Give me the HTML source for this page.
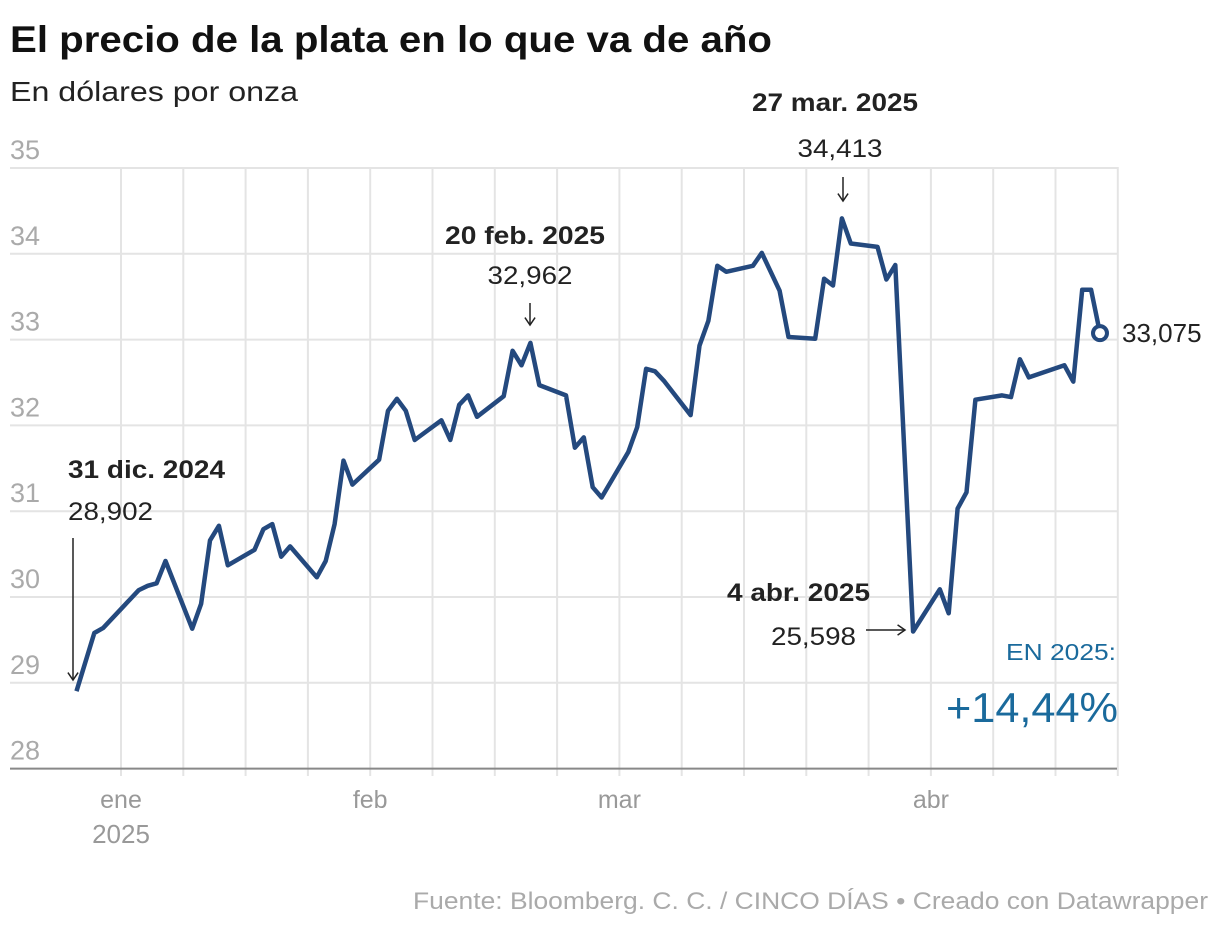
<!DOCTYPE html>
<html><head><meta charset="utf-8">
<style>
body{margin:0;background:#fff;font-family:"Liberation Sans",sans-serif;}
#wrap{position:relative;width:1220px;height:930px;overflow:hidden;}
</style></head>
<body>
<div id="wrap">
<svg id="chart" width="1220" height="930" font-family="Liberation Sans, sans-serif">
<text x="10" y="52" font-size="37" font-weight="bold" fill="#111" textLength="762" lengthAdjust="spacingAndGlyphs">El precio de la plata en lo que va de año</text>
<text x="10" y="101" font-size="28" fill="#222" textLength="288" lengthAdjust="spacingAndGlyphs">En dólares por onza</text>
<g id="grid"></g>
<g id="series"></g>
<g id="annot"></g>
<text x="1208" y="909" font-size="24" fill="#aaa" text-anchor="end" textLength="795" lengthAdjust="spacingAndGlyphs">Fuente: Bloomberg. C. C. / CINCO DÍAS • Creado con Datawrapper</text>
</svg>
</div>
<script>
const dates=["2024-12-31","2025-01-02","2025-01-03","2025-01-07","2025-01-08","2025-01-09","2025-01-10","2025-01-13","2025-01-14","2025-01-15","2025-01-16","2025-01-17","2025-01-20","2025-01-21","2025-01-22","2025-01-23","2025-01-24","2025-01-27","2025-01-28","2025-01-29","2025-01-30","2025-01-31","2025-02-03","2025-02-04","2025-02-05","2025-02-06","2025-02-07","2025-02-10","2025-02-11","2025-02-12","2025-02-13","2025-02-14","2025-02-17","2025-02-18","2025-02-19","2025-02-20","2025-02-21","2025-02-24","2025-02-25","2025-02-26","2025-02-27","2025-02-28","2025-03-03","2025-03-04","2025-03-05","2025-03-06","2025-03-07","2025-03-10","2025-03-11","2025-03-12","2025-03-13","2025-03-14","2025-03-17","2025-03-18","2025-03-20","2025-03-21","2025-03-24","2025-03-25","2025-03-26","2025-03-27","2025-03-28","2025-03-31","2025-04-01","2025-04-02","2025-04-04","2025-04-07","2025-04-08","2025-04-09","2025-04-10","2025-04-11","2025-04-14","2025-04-15","2025-04-16","2025-04-17","2025-04-21","2025-04-22","2025-04-23","2025-04-24","2025-04-25"];
const prices=[28.902,29.58,29.64,30.08,30.13,30.16,30.42,29.63,29.92,30.66,30.83,30.37,30.55,30.79,30.85,30.47,30.59,30.23,30.42,30.85,31.59,31.31,31.60,32.17,32.31,32.17,31.83,32.06,31.83,32.24,32.35,32.10,32.34,32.87,32.70,32.962,32.47,32.35,31.74,31.86,31.28,31.16,31.69,31.98,32.66,32.63,32.52,32.12,32.93,33.22,33.86,33.79,33.86,34.01,33.57,33.03,33.01,33.71,33.63,34.413,34.12,34.08,33.70,33.87,29.598,30.09,29.81,31.03,31.22,32.30,32.35,32.33,32.77,32.56,32.70,32.51,33.58,33.58,33.075];
const yTicks=[28,29,30,31,32,33,34,35];
const monthTicks=["2025-01-05","2025-02-02","2025-03-02","2025-04-06"];
const monthLabels=["ene","feb","mar","abr"];

const NS="http://www.w3.org/2000/svg";
const origin=Date.UTC(2025,0,5);
function dayOf(s){const p=s.split("-");return (Date.UTC(+p[0],+p[1]-1,+p[2])-origin)/86400000;}
function xs(s){return 121+dayOf(s)*8.9;}
function ys(v){return 168+(35-v)*85.8;}
function mk(tag,attrs,parent){const e=document.createElementNS(NS,tag);for(const k in attrs)e.setAttribute(k,attrs[k]);parent.appendChild(e);return e;}
const grid=document.getElementById("grid"),series=document.getElementById("series"),annot=document.getElementById("annot");

for(let w=0;w<=16;w++){const x=121+w*62.3;
 const l=mk("line",{x1:x,y1:167,x2:x,y2:776,stroke:"#e4e4e4","stroke-width":2},grid);
 
 }
yTicks.forEach(v=>{const y=ys(v);
 const l=mk("line",{x1:10,y1:y,x2:1117,y2:y,stroke:v===28?"#888":"#e4e4e4","stroke-width":2},grid);
 
 
 const t=mk("text",{x:10,y:y-9,"font-size":27,fill:"#aaa"},grid);t.textContent=v;
 
 });
monthTicks.forEach((d,i)=>{const x=xs(d);
 const t=mk("text",{x:x,y:808,"font-size":25,fill:"#999","text-anchor":"middle"},grid);t.textContent=monthLabels[i];
 
 });
const yr=mk("text",{x:xs(monthTicks[0]),y:843,"font-size":26,fill:"#999","text-anchor":"middle"},grid);yr.textContent="2025";



const pts=dates.map((d,i)=>xs(d).toFixed(1)+","+ys(prices[i]).toFixed(1)).join(" ");
const pl=mk("polyline",{points:pts,fill:"none",stroke:"#24497e","stroke-width":4.5,"stroke-linejoin":"round"},series);


const n=dates.length-1;
const c=mk("circle",{cx:xs(dates[n]),cy:ys(prices[n]),r:7,fill:"#fff",stroke:"#24497e","stroke-width":4},series);


const lv=mk("text",{x:xs(dates[n])+22,y:ys(prices[n])+9,"font-size":26,fill:"#222"},series);lv.textContent=prices[n].toFixed(3).replace(".",",");



function txt(s,x,y,opts,name,len){const t=mk("text",Object.assign({x:x,y:y,"font-size":24,fill:"#222"},opts),annot);t.textContent=s;
 if(len){t.setAttribute("textLength",len);t.setAttribute("lengthAdjust","spacingAndGlyphs");}
 
 return t;}
function arrow(x1,y1,x2,y2,name){const g=mk("g",{},annot);
 
 
 mk("line",{x1:x1,y1:y1,x2:x2,y2:y2,stroke:"#222","stroke-width":1.5},g);
 const a=Math.atan2(y2-y1,x2-x1),L=9;
 mk("polyline",{points:`${x2-L*Math.cos(a-0.6)},${y2-L*Math.sin(a-0.6)} ${x2},${y2} ${x2-L*Math.cos(a+0.6)},${y2-L*Math.sin(a+0.6)}`,fill:"none",stroke:"#222","stroke-width":1.5},g);}
txt("31 dic. 2024",68,478,{"font-weight":"bold","font-size":25},"annotation-title-dec31",157);
txt("28,902",68,520,{"font-size":25},"annotation-value-dec31",85);
arrow(73,538,73,680,"annotation-arrow-dec31");
txt("20 feb. 2025",525,244,{"font-weight":"bold","text-anchor":"middle","font-size":25},"annotation-title-feb20",160);
txt("32,962",530,284,{"text-anchor":"middle","font-size":25},"annotation-value-feb20",85);
arrow(530,303,530,325,"annotation-arrow-feb20");
txt("27 mar. 2025",835,111,{"font-weight":"bold","text-anchor":"middle","font-size":25},"annotation-title-mar27",166);
txt("34,413",840,157,{"text-anchor":"middle","font-size":25},"annotation-value-mar27",85);
arrow(843,177,843,201,"annotation-arrow-mar27");
txt("4 abr. 2025",870,601,{"font-weight":"bold","text-anchor":"end","font-size":25},"annotation-title-apr4",143);
txt("25,598",856,645,{"text-anchor":"end","font-size":25},"annotation-value-apr4",85);
arrow(866,630,905,630,"annotation-arrow-apr4");
txt("EN 2025:",1116,660,{"text-anchor":"end",fill:"#1a6a9c","font-size":23},"ytd-label",110);
txt("+14,44%",1118,722,{"text-anchor":"end",fill:"#1a6a9c","font-size":42},"ytd-value",172);
</script>
</body></html>
